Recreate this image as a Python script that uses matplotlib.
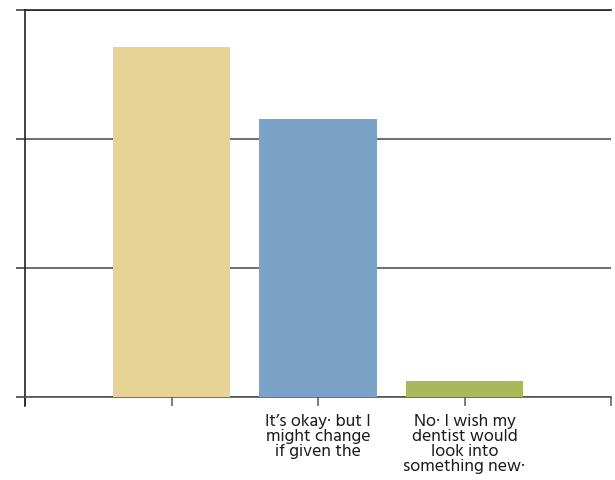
import matplotlib
matplotlib.use("Agg")
import matplotlib.pyplot as plt

categories = ["", "It’s okay· but I\nmight change\nif given the", "No· I wish my\ndentist would\nlook into\nsomething new·"]
values = [54.3, 43.1, 2.4]
colors = ["#E8D396", "#7BA3C8", "#A9B85B"]
y_ticks = [0, 20, 40, 60]

fig = plt.figure(figsize=(6.15, 4.81), dpi=100)
ax = fig.add_axes([25/615, 1 - 397.7/481, (611-25)/615, (397.7-11.3)/481])

x = list(range(1, len(categories) + 1))
ax.bar(x, values, width=0.8, color=colors, zorder=3)

ax.set_xlim(0, len(categories) + 1)
ax.set_ylim(0, 60)
ax.set_yticks(y_ticks)
ax.set_yticklabels([])
ax.yaxis.grid(True, color="#555555", linewidth=1.2, zorder=0)
ax.set_axisbelow(True)

ax.set_xticks(x)
ax.set_xticklabels(categories, fontsize=12.8, family=["Hind", "Liberation Sans", "DejaVu Sans"],
                   color="#1a1a1a", linespacing=0.98, va="top", ha="center")
ax.set_xticks([0, len(categories) + 1], minor=True)
ax.tick_params(axis="x", which="both", length=6.5, width=1.2, color="#666666", pad=5.5, direction="out")
ax.tick_params(axis="y", length=6.5, width=1.2, color="#444444", direction="out")

ax.spines["right"].set_visible(False)
ax.spines["top"].set_color("#222222")
ax.spines["top"].set_linewidth(1.2)
ax.spines["left"].set_color("#222222")
ax.spines["left"].set_linewidth(1.2)
ax.spines["left"].set_bounds(-1.4, 60)
ax.spines["bottom"].set_color("#555555")
ax.spines["bottom"].set_linewidth(1.2)

fig.savefig("out.png", dpi=100)
